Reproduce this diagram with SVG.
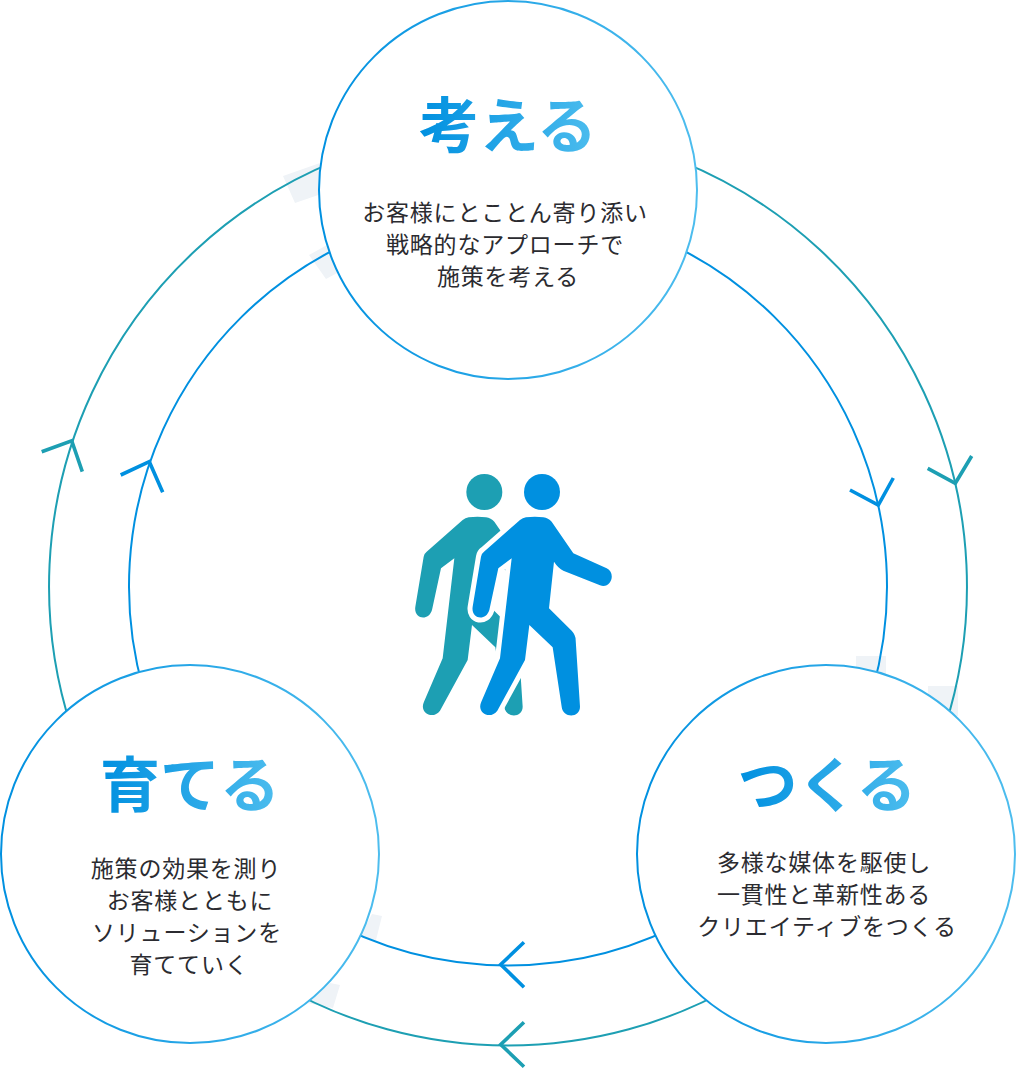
<svg xmlns="http://www.w3.org/2000/svg" width="1016" height="1069" viewBox="0 0 1016 1069">
<style>
.ring{fill:none;stroke-width:2}
.teal{stroke:#1d9fb3}
.blue{stroke:#0090e0}
.head{fill:none;stroke-width:3.6;stroke-linecap:butt;stroke-linejoin:miter}
.patch{fill:#eff3f7}
.node{fill:#fff;stroke:url(#g1);stroke-width:2}
.title{font-family:"Noto Sans CJK JP","Noto Sans",sans-serif;font-weight:700;font-size:60px;text-anchor:middle;fill:url(#g2)}
.body{font-family:"Noto Sans CJK JP","Noto Sans",sans-serif;font-weight:400;font-size:23px;letter-spacing:.8px;text-anchor:middle;fill:#2b2b30}
</style>
<defs>
<linearGradient id="g1" x1="0" y1="0" x2="1" y2="0"><stop offset="0" stop-color="#0090e0"/><stop offset="1" stop-color="#4dbdee"/></linearGradient>
<linearGradient id="g2" x1="0" y1="0" x2="1" y2="0"><stop offset="0" stop-color="#0090e0"/><stop offset="1" stop-color="#4dbdee"/></linearGradient>
<path id="bod" d="M378 172Q405 168 430 172Q445 174 455 185L520 280L620 325C650 340 632 388 600 376L490 332Q475 325 462 305L447 445L515 512Q527 525 527 540L540 740C540 775 488 775 485 740L458 562L388 495L375 600L292 752C272 780 228 760 244 725L300 595L335 295L295 325L268 450C258 485 212 478 218 440L243 290Q245 280 252 275L360 180Q368 174 378 172Z"/>
</defs>
<g id="patches">
<path class="patch" d="M928 686h30v30h-30zM856 656h30v30h-30zM283 176l37-13 10 28-35 12zM309 255l18-10 12 27-13 7zM372 914l10 2-6 24-16-4zM330 983l10 2-7 23-26-5z"/>
</g>
<g id="connectors">
<path class="ring teal" d="M679.9 160.9A459 459 0 0 1 944.5 728.3"/>
<path class="ring blue" d="M668.2 243A379 379 0 0 1 872.3 691"/>
<path class="ring blue" d="M697.5 914.7A379 379 0 0 1 318.5 914.7"/>
<path class="ring teal" d="M737.5 984A459 459 0 0 1 278.5 984"/>
<path class="ring teal" d="M71.5 728.3A459 459 0 0 1 336.1 160.9"/>
<path class="ring blue" d="M143.7 691A379 379 0 0 1 347.8 243"/>
<path class="head teal" d="M927.7 468.3L955.3 483.3L971.7 456"/>
<path class="head blue" d="M850 490L878.3 505L893.3 478"/>
<path class="head blue" d="M524 942.3L500.7 964.5L524 987.3"/>
<path class="head teal" d="M524 1022.3L500.7 1044.5L524 1066.7"/>
<path class="head teal" d="M41.7 451.7L71.7 440.7L82.3 471.7"/>
<path class="head blue" d="M120.7 475L149.3 461.7L162.7 492.3"/>
</g>
<g id="node-think">
<circle class="node" cx="508" cy="190" r="189"/>
<text class="title" x="508" y="148">考える</text>
<text class="body" x="505" y="221">お客様にとことん寄り添い</text>
<text class="body" x="505" y="253">戦略的なアプローチで</text>
<text class="body" x="508" y="285">施策を考える</text>
</g>
<g id="node-make">
<circle class="node" cx="826" cy="854" r="189"/>
<text class="title" x="827" y="807">つくる</text>
<text class="body" x="824" y="871">多様な媒体を駆使し</text>
<text class="body" x="824" y="903">一貫性と革新性ある</text>
<text class="body" x="827" y="935">クリエイティブをつくる</text>
</g>
<g id="node-grow">
<circle class="node" cx="190" cy="854" r="189"/>
<text class="title" x="190" y="807">育てる</text>
<text class="body" x="186" y="877">施策の効果を測り</text>
<text class="body" x="190" y="909">お客様とともに</text>
<text class="body" x="187" y="941">ソリューションを</text>
<text class="body" x="189" y="973">育てていく</text>
</g>
<g id="figures" transform="translate(400 460) scale(.33333)">
<circle cx="253" cy="96" r="54" fill="#1d9fb3"/>
<use href="#bod" x="-172" fill="#1d9fb3"/>
<circle cx="426" cy="96" r="54" fill="#0090e0"/>
<use href="#bod" fill="#0090e0" stroke="#fff" stroke-width="30" paint-order="stroke" stroke-linejoin="round"/>
</g>
</svg>
